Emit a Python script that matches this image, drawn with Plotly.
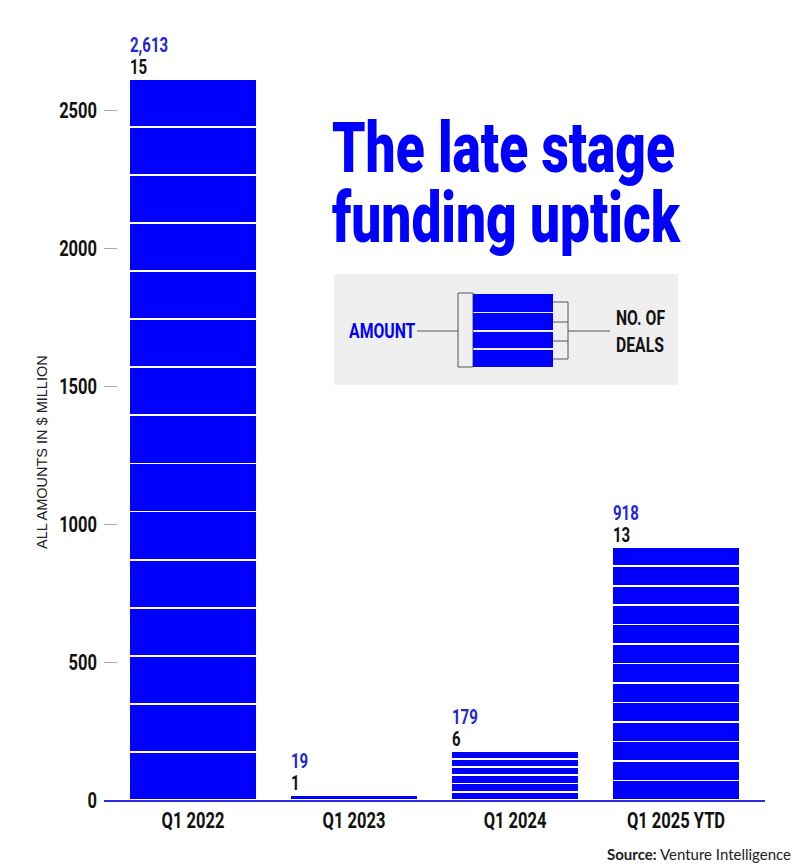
import plotly.graph_objects as go

# ---- data ----
categories = ["Q1 2022", "Q1 2023", "Q1 2024", "Q1 2025 YTD"]
amounts = [2613, 19, 179, 918]          # $ million
deals = [15, 1, 6, 13]                  # number of deals
amount_labels = ["2,613", "19", "179", "918"]
y_ticks = [0, 500, 1000, 1500, 2000, 2500]
title_lines = ["The late stage", "funding uptick"]

BLUE = "#0000ff"
COND = "Roboto"   # horizontally condensed below via post_script

W, H = 800, 868
L, R, T, B = 104, 35, 30, 68
PW, PH = W - L - R, H - T - B


def px(x):
    return (x - L) / PW


def py(y):
    return (H - B - y) / PH


fig = go.Figure()

max_n = max(deals)
for k in range(max_n):
    ys = [a / n if k < n else None for a, n in zip(amounts, deals)]
    fig.add_trace(go.Bar(
        x=categories, y=ys,
        marker=dict(color=BLUE, line=dict(color="white", width=1.8)),
        width=0.795, showlegend=False, hoverinfo="skip",
    ))

annotations = []
for c, a, lab, n in zip(categories, amounts, amount_labels, deals):
    annotations.append(dict(x=c, y=a, xref="x", yref="y", text=lab,
                            showarrow=False, xanchor="left", yanchor="middle",
                            xshift=-65, yshift=34, align="left",
                            font=dict(family=COND, size=20, color="#2525d8", weight=700)))
    annotations.append(dict(x=c, y=a, xref="x", yref="y", text=str(n),
                            showarrow=False, xanchor="left", yanchor="middle",
                            xshift=-65, yshift=12, align="left",
                            font=dict(family=COND, size=20, color="#111", weight=700)))

# title (leading tightened in post_script)
annotations.append(dict(x=px(330), y=py(104), xref="paper", yref="paper",
                        text="<br>".join(title_lines), showarrow=False,
                        xanchor="left", yanchor="top", align="left",
                        font=dict(family=COND, size=71, color=BLUE, weight=900)))

# y axis title
annotations.append(dict(x=px(42), y=py(452), xref="paper", yref="paper",
                        text="ALL AMOUNTS IN $ MILLION", textangle=-90,
                        showarrow=False, xanchor="center", yanchor="middle",
                        font=dict(family="Liberation Sans, sans-serif", size=14.5, color="#222")))

# source
annotations.append(dict(x=px(793), y=py(854), xref="paper", yref="paper",
                        text="<b>Source:</b> Venture Intelligence",
                        showarrow=False, xanchor="right", yanchor="middle",
                        font=dict(family="Lato, sans-serif", size=15, color="#222")))

# legend key texts
annotations.append(dict(x=px(382), y=py(331), xref="paper", yref="paper",
                        text="AMOUNT", showarrow=False, xanchor="center", yanchor="middle",
                        font=dict(family=COND, size=21, color=BLUE, weight=700)))
annotations.append(dict(x=px(614), y=py(331), xref="paper", yref="paper",
                        text="NO. OF<br>DEALS", showarrow=False, xanchor="left",
                        yanchor="middle", align="left",
                        font=dict(family=COND, size=21, color="#111", weight=700)))

shapes = []
shapes.append(dict(type="rect", xref="paper", yref="paper", x0=px(334), x1=px(678),
                   y0=py(385), y1=py(274), fillcolor="#efefef", line=dict(width=0), layer="below"))
GREY = "#555"
shapes.append(dict(type="line", xref="paper", yref="paper", x0=px(417), x1=px(458),
                   y0=py(331), y1=py(331), line=dict(color=GREY, width=1)))
shapes.append(dict(type="rect", xref="paper", yref="paper", x0=px(458), x1=px(473),
                   y0=py(367), y1=py(293), line=dict(color=GREY, width=1)))
for y0, y1 in [(294, 312), (313, 330), (332, 348), (350, 367)]:
    shapes.append(dict(type="rect", xref="paper", yref="paper", x0=px(473), x1=px(553),
                       y0=py(y1), y1=py(y0), fillcolor=BLUE, line=dict(width=0)))
shapes.append(dict(type="line", xref="paper", yref="paper", x0=px(568), x1=px(568),
                   y0=py(359), y1=py(302), line=dict(color=GREY, width=1)))
for yy in [302, 322, 341, 359]:
    shapes.append(dict(type="line", xref="paper", yref="paper", x0=px(553), x1=px(568),
                       y0=py(yy), y1=py(yy), line=dict(color=GREY, width=1)))
shapes.append(dict(type="line", xref="paper", yref="paper", x0=px(568), x1=px(610),
                   y0=py(331), y1=py(331), line=dict(color=GREY, width=1)))

fig.update_layout(
    width=W, height=H,
    margin=dict(l=L, r=R, t=T, b=B),
    paper_bgcolor="white", plot_bgcolor="white",
    barmode="stack",
    xaxis=dict(range=[-0.553, 3.553], showgrid=False, zeroline=False,
               showline=True, linecolor="#2a2ae0", linewidth=1.5,
               ticks="", tickfont=dict(family=COND, size=22, color="#111", weight=700)),
    yaxis=dict(range=[0, PH / 0.276], showgrid=False, zeroline=False, showline=False,
               tickvals=y_ticks, ticks="inside", ticklen=13, tickcolor="#aaa", tickwidth=1,
               tickfont=dict(family=COND, size=22, color="#111", weight=700),
               ticklabelstandoff=6),
    annotations=annotations,
    shapes=shapes,
)

# Horizontally condense the Roboto texts to mimic the reference's condensed face,
# and tighten the title's line spacing.
post_js = """
var gd = document.getElementById('{plot_id}');
function squeeze(){
  gd.querySelectorAll('text').forEach(function(t){
    var ff = t.style.fontFamily || '';
    if (ff.indexOf('Roboto') < 0) return;
    var fs = parseFloat(t.style.fontSize || '0');
    if (fs > 50) {
      var lines = t.querySelectorAll('tspan.line');
      for (var i = 1; i < lines.length; i++) { lines[i].setAttribute('dy', '70'); }
    }
    var cur = t.getAttribute('transform') || '';
    if (t.__sq !== undefined && t.__sq === cur) return;
    var bb = t.getBBox();
    var anc = t.getAttribute('text-anchor') || 'start';
    var ox = anc === 'start' ? bb.x : (anc === 'end' ? bb.x + bb.width : bb.x + bb.width / 2);
    var nt = (cur + ' translate(' + ox + ',0) scale(0.75,1) translate(' + (-ox) + ',0)').trim();
    t.setAttribute('transform', nt);
    t.__sq = nt;
  });
}
squeeze();
gd.on('plotly_afterplot', squeeze);
"""

fig.write_html("out.html", post_script=post_js)
